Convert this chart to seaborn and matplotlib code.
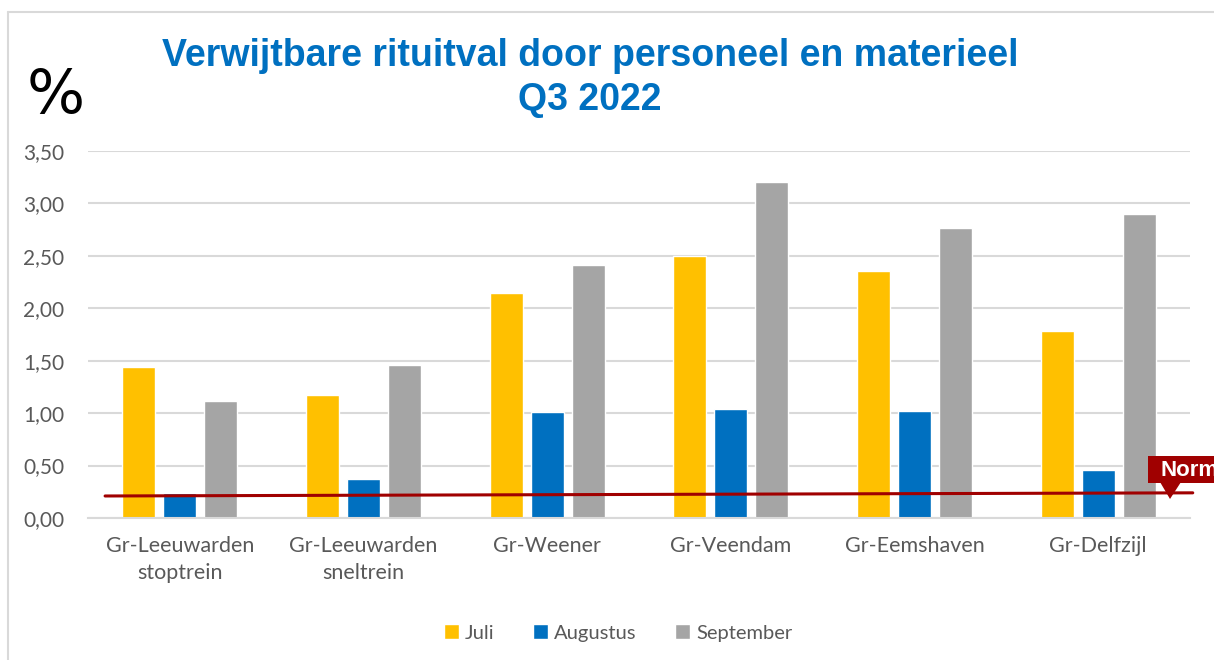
import matplotlib
matplotlib.use("Agg")
import matplotlib.pyplot as plt
import seaborn as sns
import pandas as pd
from matplotlib.patches import Rectangle, Polygon
from matplotlib.lines import Line2D

categories = ["Gr-Leeuwarden\nstoptrein", "Gr-Leeuwarden\nsneltrein", "Gr-Weener",
              "Gr-Veendam", "Gr-Eemshaven", "Gr-Delfzijl"]
months = ["Juli", "Augustus", "September"]
juli = [1.44, 1.17, 2.15, 2.50, 2.36, 1.78]
augustus = [0.24, 0.37, 1.01, 1.04, 1.02, 0.46]
september = [1.12, 1.46, 2.41, 3.20, 2.77, 2.90]
norm_start, norm_end = 0.21, 0.24
yticks = [0.0, 0.5, 1.0, 1.5, 2.0, 2.5, 3.0, 3.5]
colors = ["#FFC000", "#0070C0", "#A5A5A5"]

rows = []
for m, vals in zip(months, [juli, augustus, september]):
    for c, v in zip(categories, vals):
        rows.append({"cat": c, "maand": m, "val": v})
df = pd.DataFrame(rows)

sns.set_style("white")
plt.rcParams["font.family"] = ["Lato", "DejaVu Sans"]

W, H = 1214, 660
fig = plt.figure(figsize=(W / 100, H / 100), dpi=100)
ax = fig.add_axes([88 / W, 1 - 518 / H, (1190 - 88) / W, (518 - 151) / H])

sns.barplot(data=df, x="cat", y="val", hue="maand", order=categories, hue_order=months,
            palette=colors, width=0.67, gap=0.2, saturation=1, ax=ax, legend=True)

ax.set_xlim(-0.5, len(categories) - 0.5)
ax.set_ylim(0, 3.5)
ax.set_yticks(yticks)
ax.set_yticklabels([f"{t:.2f}".replace(".", ",") for t in yticks], color="#595959", fontsize=15)
ax.tick_params(axis="y", length=0, pad=17)
ax.set_xticks(range(len(categories)))
ax.set_xticklabels(categories, color="#595959", fontsize=15.5, linespacing=1.45)
ax.tick_params(axis="x", which="major", length=0, pad=13)
ax.set_xticks([i - 0.5 for i in range(len(categories) + 1)], minor=True)
ax.tick_params(axis="x", which="minor", length=7, width=1.2, color="#D9D9D9")
ax.set_xlabel("")
ax.set_ylabel("")
ax.yaxis.grid(True, color="#D9D9D9", linewidth=1.5)
ax.set_axisbelow(True)
for s in ["top", "right", "left"]:
    ax.spines[s].set_visible(False)
ax.spines["bottom"].set_color("#D9D9D9")
ax.spines["bottom"].set_linewidth(1.5)

# norm line
ax.plot([-0.407, 5.515], [norm_start, norm_end], color="#A00000", linewidth=2.2,
        clip_on=False, zorder=5)

# legend
handles, labels = ax.get_legend_handles_labels()
ax.get_legend().remove()
fig.legend(handles, labels, loc="center", bbox_to_anchor=(618 / W, 1 - 633 / H), ncol=3,
           frameon=False, fontsize=14.5, handlelength=0.75, handleheight=0.75,
           handletextpad=0.3, columnspacing=1.9, labelcolor="#595959")

# title
fig.text(590 / W, 1 - 78 / H, "Verwijtbare rituitval door personeel en materieel\nQ3 2022",
         ha="center", va="center", color="#0070C0", fontsize=27, fontweight="bold",
         family="Liberation Sans", linespacing=1.25)
fig.text(56 / W, 1 - 96 / H, "%", ha="center", va="center", fontsize=44,
         family="DejaVu Sans", color="black")

# frame border
fig.add_artist(Line2D([8 / W, 1.0], [1 - 12 / H, 1 - 12 / H], transform=fig.transFigure,
                      color="#D9D9D9", linewidth=1.5))
fig.add_artist(Line2D([8 / W, 8 / W], [0, 1 - 12 / H], transform=fig.transFigure,
                      color="#D9D9D9", linewidth=1.5))

# Norm callout (cut off at the right edge, as in the reference)
fig.add_artist(Rectangle((1148 / W, 1 - 483 / H), 80 / W, 27 / H, transform=fig.transFigure,
                         facecolor="#A00000", edgecolor="none", zorder=6))
fig.add_artist(Polygon([(1160 / W, 1 - 482 / H), (1181 / W, 1 - 482 / H), (1170 / W, 1 - 499 / H)],
                       closed=True, transform=fig.transFigure, facecolor="#A00000",
                       edgecolor="none", zorder=6))
fig.text(1161 / W, 1 - 470 / H, "Norm", ha="left", va="center", color="white",
         fontsize=16, fontweight="bold", family="Liberation Sans", zorder=7)

fig.savefig("out.png", dpi=100)
